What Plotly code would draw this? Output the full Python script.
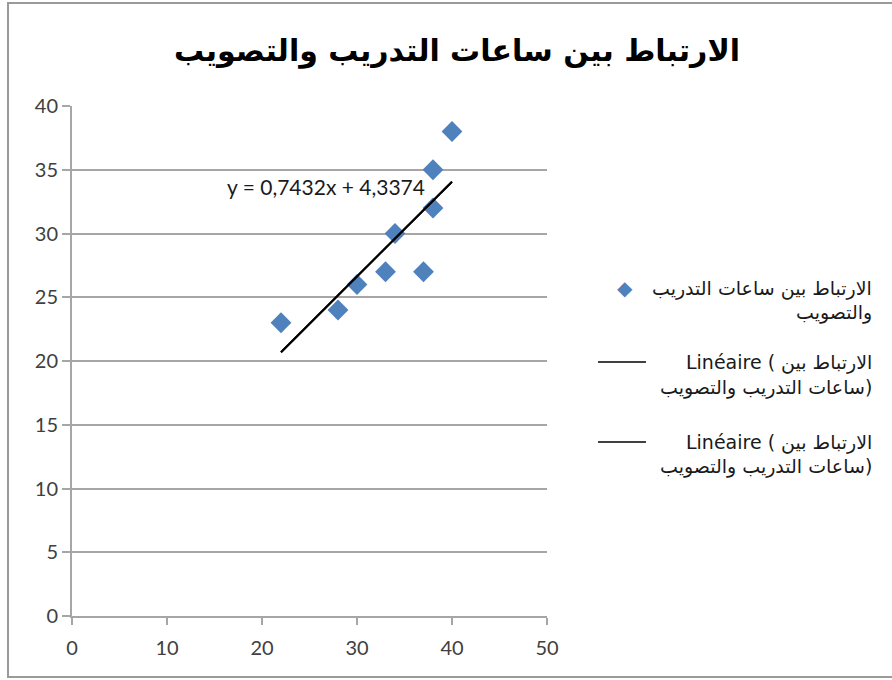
import plotly.graph_objects as go

# Training hours vs. scoring
hours = [22, 28, 30, 33, 34, 37, 38, 38, 40]
scores = [23, 24, 26, 27, 30, 27, 35, 32, 38]

# Linear trend coefficients (as printed on the chart)
slope = 0.7432
intercept = 4.3374

x_ticks = [0, 10, 20, 30, 40, 50]
y_ticks = [0, 5, 10, 15, 20, 25, 30, 35, 40]

title_text = "الارتباط بين ساعات التدريب والتصويب"
series_lines = ["الارتباط بين ساعات التدريب", "والتصويب"]
trend_lines = ["Linéaire ( الارتباط بين", "ساعات التدريب والتصويب)"]
equation_text = "y = 0,7432x + 4,3374"

W, H = 892, 680
L, R, T, B = 72, 345, 106, 64
PW, PH = W - L - R, H - T - B

BLUE = "#4F81BD"
GRID = "#A6A6A6"
LATIN = "Lato, sans-serif"
TICK_FONT = dict(family=LATIN, size=20, color="#404040")
AR_FONT = "DejaVu Sans, sans-serif"


def px(xp):
    return (xp - L) / PW


def py(yp):
    return (H - B - yp) / PH


trend_x = [min(hours), max(hours)]
trend_y = [slope * v + intercept for v in trend_x]

fig = go.Figure()
fig.add_trace(go.Scatter(
    x=hours, y=scores, mode="markers",
    marker=dict(symbol="diamond", size=16, color=BLUE),
    showlegend=False, cliponaxis=False,
))
for _ in range(2):
    fig.add_trace(go.Scatter(
        x=trend_x, y=trend_y, mode="lines",
        line=dict(color="#000000", width=2),
        showlegend=False,
    ))

annotations = [
    dict(text=equation_text, x=px(326), y=py(186), xref="paper", yref="paper",
         showarrow=False, xanchor="center", yanchor="middle",
         font=dict(family=LATIN, size=21, color="#1a1a1a")),
]

# Legend block drawn on the right
right_edge = px(874)
legend_rows = [
    (series_lines[0], 288), (series_lines[1], 312),
    (trend_lines[0], 362), (trend_lines[1], 387),
    (trend_lines[0], 442), (trend_lines[1], 467),
]
for txt, yy in legend_rows:
    annotations.append(dict(
        text=txt, x=right_edge, y=py(yy), xref="paper", yref="paper",
        showarrow=False, xanchor="right", yanchor="middle",
        font=dict(family=AR_FONT, size=19, color="#1a1a1a"),
    ))
annotations.append(dict(
    text="◆", x=px(625), y=py(288), xref="paper", yref="paper",
    showarrow=False, xanchor="center", yanchor="middle",
    font=dict(family="DejaVu Sans", size=20, color=BLUE),
))

shapes = [
    # outer chart frame
    dict(type="rect", xref="paper", yref="paper",
         x0=px(8), x1=px(1000), y0=py(677), y1=py(3),
         line=dict(color="#9a9a9a", width=2), fillcolor="rgba(0,0,0,0)", layer="below"),
]
for yy in (362, 442):
    shapes.append(dict(type="line", xref="paper", yref="paper",
                       x0=px(598), x1=px(646), y0=py(yy), y1=py(yy),
                       line=dict(color="#000000", width=1.5)))

fig.update_layout(
    width=W, height=H,
    margin=dict(l=L, r=R, t=T, b=B),
    paper_bgcolor="white", plot_bgcolor="white",
    title=dict(text=title_text, x=457 / W, xanchor="center", y=1 - 50 / H, yanchor="middle",
               font=dict(family=AR_FONT, size=30, color="#000000", weight="bold")),
    xaxis=dict(range=[0, 50], tickvals=x_ticks, showgrid=False, zeroline=False,
               showline=True, linecolor=GRID, linewidth=2, ticks="outside",
               ticklen=7, tickcolor=GRID, tickwidth=2, tickfont=TICK_FONT,
               ticklabelstandoff=6),
    yaxis=dict(range=[0, 40], tickvals=y_ticks, showgrid=True, gridcolor=GRID, gridwidth=1.5,
               zeroline=False, showline=True, linecolor=GRID, linewidth=2,
               ticks="outside", ticklen=8, tickcolor=GRID, tickwidth=2,
               tickfont=TICK_FONT),
    annotations=annotations,
    shapes=shapes,
    showlegend=False,
)

fig.write_html("out.html")
